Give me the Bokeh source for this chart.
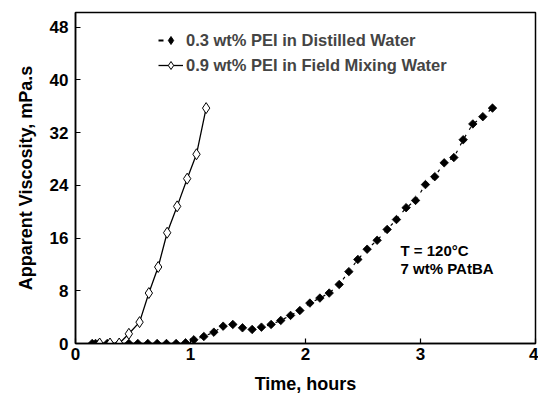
import numpy as np
from bokeh.plotting import figure
from bokeh.models import Range1d, FixedTicker, Legend, LegendItem, Label
from bokeh.embed import file_html
from bokeh.resources import INLINE

# 0.3 wt% PEI in Distilled Water (filled diamonds)
dist_t = [0.145, 0.174, 0.20, 0.276, 0.30, 0.377, 0.464, 0.542, 0.629, 0.710, 0.791, 0.875,
          0.957, 1.029, 1.116, 1.203, 1.284, 1.368, 1.452, 1.536, 1.617, 1.701, 1.785,
          1.870, 1.951, 2.038, 2.125, 2.206, 2.293, 2.377, 2.455, 2.536, 2.623, 2.710,
          2.791, 2.875, 2.957, 3.043, 3.124, 3.206, 3.290, 3.371, 3.455, 3.542, 3.626]
dist_v = [0.0, 0.0, 0.0, 0.0, 0.0, 0.0, 0.0, 0.0, 0.0, 0.0, 0.0, 0.0,
          0.1, 0.56, 1.06, 1.72, 2.63, 2.89, 2.38, 2.13, 2.48, 2.89, 3.5,
          4.26, 5.0, 6.13, 6.89, 7.65, 8.95, 10.9, 12.75, 14.3, 15.65, 17.3,
          18.8, 20.6, 21.7, 24.1, 25.3, 27.4, 28.2, 30.9, 33.3, 34.4, 35.7]

# 0.9 wt% PEI in Field Mixing Water (open diamonds)
field_t = [0.21, 0.30, 0.38, 0.464, 0.557, 0.638, 0.719, 0.797, 0.884, 0.971, 1.052, 1.136]
field_v = [0.0, 0.0, 0.0, 1.47, 3.24, 7.65, 11.6, 16.8, 20.8, 25.0, 28.7, 35.7]

x_ticks = [0, 1, 2, 3, 4]
y_ticks = [0, 8, 16, 24, 32, 40, 48]
series_labels = ["0.3 wt% PEI in Distilled Water", "0.9 wt% PEI in Field Mixing Water"]
note_lines = ["T = 120\u00b0C", "7 wt% PAtBA"]

FONT = "Liberation Sans"

p = figure(width=538, height=397, output_backend="svg", toolbar_location=None,
           x_range=Range1d(0, 4), y_range=Range1d(0, 50.2),
           min_border_left=75, min_border_right=3, min_border_top=12, min_border_bottom=54)
p.grid.visible = False
p.outline_line_color = "black"
p.outline_line_width = 1.5
p.background_fill_color = "white"

for ax in (p.xaxis[0], p.yaxis[0]):
    ax.major_tick_in = 5
    ax.major_tick_out = 0
    ax.minor_tick_in = 0
    ax.minor_tick_out = 0
    ax.axis_line_width = 1.5
    ax.major_tick_line_width = 1.2
    ax.major_label_text_font = FONT
    ax.major_label_text_font_style = "bold"
    ax.major_label_text_font_size = "17px"
    ax.major_label_text_color = "black"
    ax.axis_label_text_font = FONT
    ax.axis_label_text_font_style = "bold"
    ax.axis_label_text_font_size = "18px"
    ax.axis_label_text_color = "black"

p.xaxis.ticker = FixedTicker(ticks=x_ticks)
p.yaxis.ticker = FixedTicker(ticks=y_ticks)
p.xaxis.axis_label = "Time, hours"
p.yaxis.axis_label = "Apparent Viscosity, mPa.s"
p.xaxis.major_label_standoff = 4
p.xaxis.axis_label_standoff = 11
p.yaxis.major_label_standoff = 7
p.yaxis.axis_label_standoff = 11

# series 1: dashed line + filled diamonds
p.line(dist_t, dist_v, line_color="black", line_width=1.2, line_dash="3 6")
p.scatter(dist_t, dist_v, marker="square", angle=np.pi / 4, size=6,
          fill_color="black", line_color="black", line_width=0.8)

# series 2: solid line + open diamonds
p.line(field_t, field_v, line_color="black", line_width=1.3)
p.scatter(field_t, field_v, marker="diamond", size=11,
          fill_color="white", line_color="black", line_width=1)

# legend-only glyph renderers (a single undrawable point each)
nan = [float("nan")]
lg1a = p.line(nan, nan, line_color="black", line_width=2, line_dash="5 40")
lg1b = p.scatter(nan, nan, marker="diamond", size=11, fill_color="black", line_color="black")
lg2a = p.line(nan, nan, line_color="black", line_width=1.3)
lg2b = p.scatter(nan, nan, marker="diamond", size=8, fill_color="white", line_color="black")

legend = Legend(items=[
    LegendItem(label=series_labels[0], renderers=[lg1a, lg1b]),
    LegendItem(label=series_labels[1], renderers=[lg2a, lg2b]),
], location=(83, 268))
legend.background_fill_alpha = 0
legend.border_line_alpha = 0
legend.padding = 0
legend.margin = 0
legend.spacing = 5
legend.glyph_width = 25
legend.glyph_height = 20
legend.label_height = 20
legend.label_standoff = 3
legend.label_text_font = FONT
legend.label_text_font_style = "bold"
legend.label_text_font_size = "16.5px"
p.add_layout(legend, "center")

for txt, yv in zip(note_lines, (14.1, 11.4)):
    p.add_layout(Label(x=2.826, y=yv, text=txt, text_font=FONT, text_font_style="bold",
                       text_font_size="15px", text_baseline="middle", text_color="black"))

open("out.html", "w").write(file_html(p, INLINE))
